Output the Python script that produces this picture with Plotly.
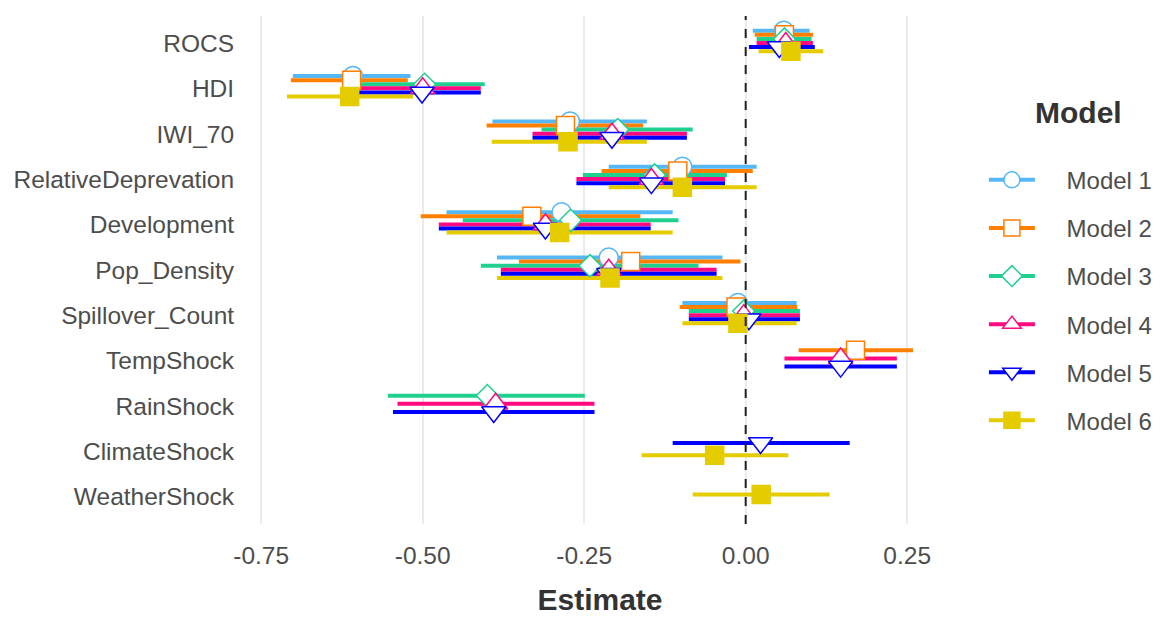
import plotly.graph_objects as go

categories = ["ROCS", "HDI", "IWI_70", "RelativeDeprevation", "Development",
              "Pop_Density", "Spillover_Count", "TempShock", "RainShock",
              "ClimateShock", "WeatherShock"]
models = ["Model 1", "Model 2", "Model 3", "Model 4", "Model 5", "Model 6"]

N = None
est_m1 = [0.059, -0.608, -0.272, -0.098, -0.285, -0.212, -0.012, N, N, N, N]
lo_m1 = [0.011, -0.701, -0.392, -0.212, -0.463, -0.385, -0.098, N, N, N, N]
hi_m1 = [0.099, -0.519, -0.153, 0.017, -0.113, -0.036, 0.079, N, N, N, N]

est_m2 = [0.060, -0.610, -0.279, -0.105, -0.331, -0.178, -0.015, 0.170, N, N, N]
lo_m2 = [0.014, -0.704, -0.401, -0.223, -0.503, -0.351, -0.102, 0.082, N, N, N]
hi_m2 = [0.104, -0.523, -0.159, 0.011, -0.163, -0.008, 0.080, 0.259, N, N, N]

est_m3 = [0.060, -0.497, -0.198, -0.141, -0.271, -0.241, -0.003, N, -0.400, N, N]
lo_m3 = [0.017, -0.598, -0.316, -0.252, -0.438, -0.410, -0.088, N, -0.554, N, N]
hi_m3 = [0.102, -0.404, -0.082, -0.029, -0.104, -0.073, 0.084, N, -0.249, N, N]

est_m4 = [0.062, -0.500, -0.207, -0.146, -0.310, -0.212, -0.003, 0.147, -0.387, N, N]
lo_m4 = [0.017, -0.600, -0.330, -0.262, -0.475, -0.379, -0.088, 0.060, -0.539, N, N]
hi_m4 = [0.104, -0.410, -0.091, -0.032, -0.147, -0.045, 0.084, 0.234, -0.234, N, N]

est_m5 = [0.052, -0.501, -0.207, -0.146, -0.310, -0.212, 0.005, 0.147, -0.390, 0.023, N]
lo_m5 = [0.005, -0.600, -0.330, -0.262, -0.475, -0.379, -0.088, 0.060, -0.546, -0.113, N]
hi_m5 = [0.107, -0.410, -0.091, -0.032, -0.147, -0.045, 0.084, 0.234, -0.234, 0.161, N]

est_m6 = [0.070, -0.613, -0.275, -0.098, -0.288, -0.210, -0.012, N, N, -0.048, 0.024]
lo_m6 = [0.020, -0.710, -0.393, -0.212, -0.463, -0.385, -0.098, N, N, -0.161, -0.082]
hi_m6 = [0.120, -0.515, -0.153, 0.017, -0.113, -0.036, 0.079, N, N, 0.066, 0.130]

x_ticks = [-0.75, -0.50, -0.25, 0.00, 0.25]
x_ticklabels = ["-0.75", "-0.50", "-0.25", "0.00", "0.25"]

colors = ["#55B7F5", "#FF7F00", "#20D08F", "#FF0A80", "#0000FF", "#E5CC00"]
symbols = ["circle", "square", "diamond", "triangle-up", "triangle-down", "square"]
fills = ["white", "white", "white", "white", "white", "#E5CC00"]
msizes = [19, 18, 17, 21, 21, 18]

EST = [est_m1, est_m2, est_m3, est_m4, est_m5, est_m6]
LO = [lo_m1, lo_m2, lo_m3, lo_m4, lo_m5, lo_m6]
HI = [hi_m1, hi_m2, hi_m3, hi_m4, hi_m5, hi_m6]

DODGE_W = 0.54
SHIFT = -0.05

# dodge positions
ypos = [[None] * len(categories) for _ in models]
for c in range(len(categories)):
    present = [m for m in range(len(models)) if EST[m][c] is not None]
    n = len(present)
    for j, m in enumerate(present):
        ypos[m][c] = c + SHIFT + (j - (n - 1) / 2) * (DODGE_W / n)

fig = go.Figure()

# error bars (drawn first)
for m in range(len(models)):
    xs, ys = [], []
    for c in range(len(categories)):
        if EST[m][c] is None:
            continue
        xs += [LO[m][c], HI[m][c], None]
        ys += [ypos[m][c], ypos[m][c], None]
    fig.add_trace(go.Scatter(x=xs, y=ys, mode="lines",
                             line=dict(color=colors[m], width=4),
                             showlegend=False, hoverinfo="skip",
                             legendgroup=models[m]))

# points (drawn on top); isolated points so legend shows line+marker
NB = "\u00a0" * 4
for m in range(len(models)):
    xs, ys = [], []
    for c in range(len(categories)):
        if EST[m][c] is None:
            continue
        xs += [EST[m][c], None]
        ys += [ypos[m][c], None]
    fig.add_trace(go.Scatter(x=xs, y=ys, mode="lines+markers", name=NB + models[m],
                             legendgroup=models[m],
                             line=dict(color=colors[m], width=4),
                             marker=dict(symbol=symbols[m], size=msizes[m],
                                         color=fills[m],
                                         line=dict(color=colors[m], width=1.5)),
                             connectgaps=False))

fig.add_shape(type="line", x0=0, x1=0, y0=0, y1=1, xref="x", yref="paper",
              line=dict(color="#222222", width=2, dash="dash"))

fig.add_annotation(text="<b>Model</b>", x=1.195, y=0.811, xref="paper", yref="paper",
                   xanchor="center", yanchor="middle", showarrow=False,
                   font=dict(size=30, color="#333333"))

fig.update_layout(
    width=1155, height=609,
    margin=dict(l=248, r=219, t=8, b=93, autoexpand=False),
    paper_bgcolor="white", plot_bgcolor="white",
    font=dict(family="Liberation Sans, Arial, sans-serif", color="#4D4D4D", size=24),
    xaxis=dict(range=[-0.758, 0.307], tickvals=x_ticks, ticktext=x_ticklabels,
               showgrid=True, gridcolor="#EBEBEB", gridwidth=1.5, zeroline=False,
               ticks="outside", ticklen=10, tickcolor="rgba(0,0,0,0)",
               tickfont=dict(size=24.5, color="#4D4D4D"), automargin=False,
               title=dict(text="<b>Estimate</b>", font=dict(size=30, color="#333333"),
                          standoff=20),
               showline=False),
    yaxis=dict(range=[10.6, -0.6], tickvals=list(range(len(categories))),
               ticktext=categories, showgrid=False, zeroline=False,
               ticks="outside", ticklen=16, tickcolor="rgba(0,0,0,0)", automargin=False,
               tickfont=dict(size=24.5, color="#4D4D4D"), showline=False),
    legend=dict(x=1.058, xanchor="left", y=0.721, yanchor="top",
                traceorder="grouped", tracegroupgap=13.9,
                font=dict(size=24, color="#4D4D4D"),
                itemwidth=46),
)

fig.write_html("out.html")
